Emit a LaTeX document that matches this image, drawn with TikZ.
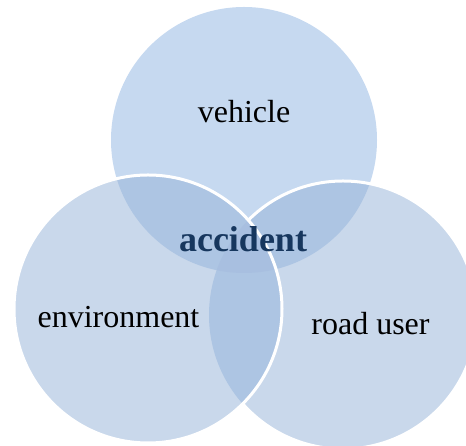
\documentclass[tikz,border=0pt]{standalone}
\usepackage{fontspec}
\setmainfont{Liberation Serif}
\definecolor{topblue}{RGB}{198,217,240}
\definecolor{sideblue}{RGB}{201,216,235}
\definecolor{lensblue}{RGB}{173,197,227}
\definecolor{midblue}{RGB}{168,191,224}
\definecolor{navy}{RGB}{23,55,94}
\tikzset{ring/.style={draw=white,line width=3pt},
  label/.style={anchor=base,font=\fontsize{32}{38}\selectfont}}
\begin{document}
\begin{tikzpicture}[x=1pt,y=1pt]
\useasboundingbox (0,0) rectangle (466,446);
\clip (0,0) rectangle (466,446);
\coordinate (veh) at (244,306);
\coordinate (env) at (148,137);
\coordinate (usr) at (343,131);
\fill[topblue] (veh) circle (133);
\fill[sideblue] (usr) circle (134);
\fill[sideblue] (env) circle (134);
\begin{scope}
\clip (veh) circle (133);
\fill[lensblue] (env) circle (134);
\fill[lensblue] (usr) circle (134);
\end{scope}
\begin{scope}
\clip (env) circle (134);
\fill[lensblue] (usr) circle (134);
\clip (veh) circle (133);
\fill[midblue] (usr) circle (134);
\end{scope}
\begin{scope}
\clip (-10,-10) rectangle (480,460) (env) circle (134);
\draw[ring] (usr) circle (134);
\end{scope}
\draw[ring] (env) circle (134);
\node[label] (vehicle) at (244,323) {vehicle};
\node[label] (environment) at (118.5,118) {environment};
\node[label] (roaduser) at (370.5,111) {road user};
\node[anchor=base,text=navy,font=\bfseries\fontsize{36}{42}\selectfont] (accident) at (243,194) {accident};
\end{tikzpicture}
\end{document}
